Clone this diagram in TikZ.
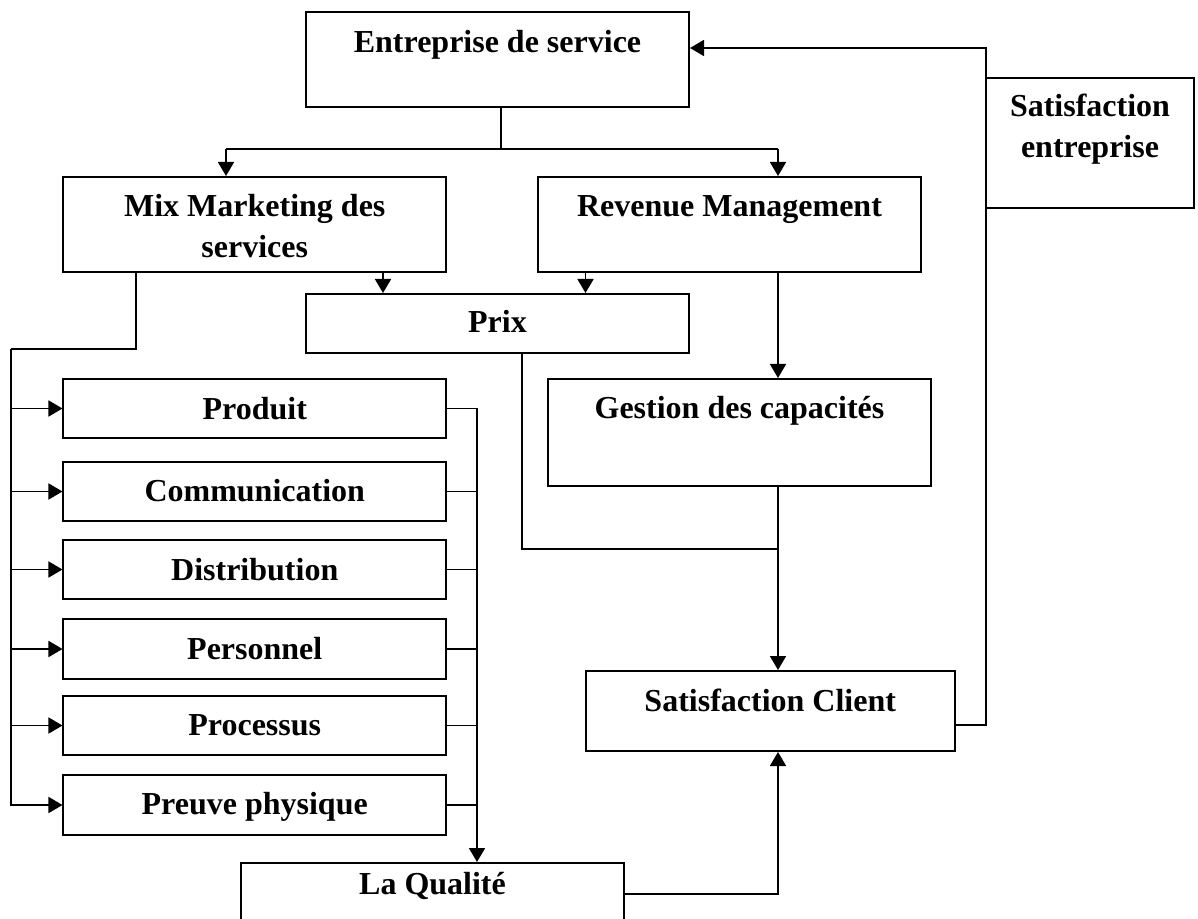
\documentclass[tikz,border=0pt]{standalone}
\usepackage{fontspec}
\setmainfont{Liberation Serif}
\usetikzlibrary{arrows.meta}
\begin{document}
\begin{tikzpicture}[x=0.75pt,y=-0.75pt,
  box/.style={draw,line width=1.5pt,inner sep=0pt,minimum width=#1},
  lbl/.style={anchor=base,inner sep=0pt,font=\bfseries\fontsize{24}{31}\selectfont},
  conn/.style={line width=1.35pt},
  arr/.style={conn,-{Triangle[length=10.5pt,width=12pt]}}]
\useasboundingbox (0,0) rectangle (1198,919);
\clip (0,0) rectangle (1198,919);
% boxes
\node[box=287.25pt,minimum height=71.25pt] (e) at (497.5,59.5) {};
\node[box=286.9pt,minimum height=71.25pt] (mix) at (254.75,224.5) {};
\node[box=287.25pt,minimum height=71.25pt] (rev) at (729.5,224.5) {};
\node[box=287.25pt,minimum height=44.25pt] (prix) at (497.5,323.5) {};
\node[box=287.25pt,minimum height=80.25pt] (ges) at (739.5,432.5) {};
\node[box=156pt,minimum height=97.5pt] (se) at (1090,143) {};
\node[box=277.1pt,minimum height=60pt] (sc) at (770.25,711) {};
\node[box=287.25pt,minimum height=46.5pt] (qual) at (432.5,894) {};
\node[box=286.9pt,minimum height=44.25pt] (prod) at (254.75,408.5) {};
\node[box=286.9pt,minimum height=44.25pt] (com) at (254.75,491.5) {};
\node[box=286.9pt,minimum height=44.25pt] (dis) at (254.75,569.5) {};
\node[box=286.9pt,minimum height=45pt] (per) at (254.75,649) {};
\node[box=286.9pt,minimum height=44.25pt] (pro) at (254.75,725.5) {};
\node[box=286.9pt,minimum height=45pt] (pre) at (254.75,805) {};
% texts
\node[lbl] (et) at (497.5,53) {Entreprise de service};
\node[lbl] (mixt1) at (254.75,217) {Mix Marketing des};
\node[lbl] (mixt2) at (254.75,258) {services};
\node[lbl] (revt) at (729.5,217) {Revenue Management};
\node[lbl] (prixt) at (497.5,333) {Prix};
\node[lbl] (gest) at (739.5,418) {Gestion des capacités};
\node[lbl] (set1) at (1090,117) {Satisfaction};
\node[lbl] (set2) at (1090,158) {entreprise};
\node[lbl] (sct) at (770.25,711) {Satisfaction Client};
\node[lbl] (prodt) at (254.75,419) {Produit};
\node[lbl] (comt) at (254.75,501) {Communication};
\node[lbl] (dist) at (254.75,580) {Distribution};
\node[lbl] (pert) at (254.75,659) {Personnel};
\node[lbl] (prot) at (254.75,735) {Processus};
\node[lbl] (pret) at (254.75,814) {Preuve physique};
\node[lbl] (qualt) at (432.5,894) {La Qualité};
% junction coordinates
\coordinate (split) at (501,149);
\coordinate (jm) at (226,149);
\coordinate (jr) at (778,149);
\coordinate (am) at (383,0);
\coordinate (ar) at (585.5,0);
\coordinate (lb) at (136,349);
\coordinate (ll) at (11,349);
\coordinate (rv) at (477,0);
\coordinate (pj) at (522,549);
\coordinate (fbx) at (986,725);
\coordinate (fby) at (986,48);
% connectors
\draw[conn] (split |- e.south) -- (split);
\draw[conn] (jm) -- (jr);
\draw[arr] (jm) -- (jm |- mix.north);
\draw[arr] (jr) -- (jr |- rev.north);
\draw[arr] (am |- mix.south) -- (am |- prix.north);
\draw[arr] (ar |- rev.south) -- (ar |- prix.north);
\draw[arr] (jr |- rev.south) -- (jr |- ges.north);
\draw[conn] (lb |- mix.south) -- (lb) -- (ll);
\draw[arr] (ll) |- (pre.west);
\draw[arr] (ll |- prod.west) -- (prod.west);
\draw[arr] (ll |- com.west) -- (com.west);
\draw[arr] (ll |- dis.west) -- (dis.west);
\draw[arr] (ll |- per.west) -- (per.west);
\draw[arr] (ll |- pro.west) -- (pro.west);
\draw[arr] (prod.east) -| (rv |- qual.north);
\draw[conn] (com.east) -- (rv |- com.east);
\draw[conn] (dis.east) -- (rv |- dis.east);
\draw[conn] (per.east) -- (rv |- per.east);
\draw[conn] (pro.east) -- (rv |- pro.east);
\draw[conn] (pre.east) -- (rv |- pre.east);
\draw[conn] (pj |- prix.south) -- (pj) -- (jr |- pj);
\draw[arr] (jr |- ges.south) -- (jr |- sc.north);
\draw[arr] (qual.east) -| (jr |- sc.south);
\draw[arr] (sc.east |- fbx) -- (fbx) -- (fby) -- (e.east |- fby);
\end{tikzpicture}
\end{document}
